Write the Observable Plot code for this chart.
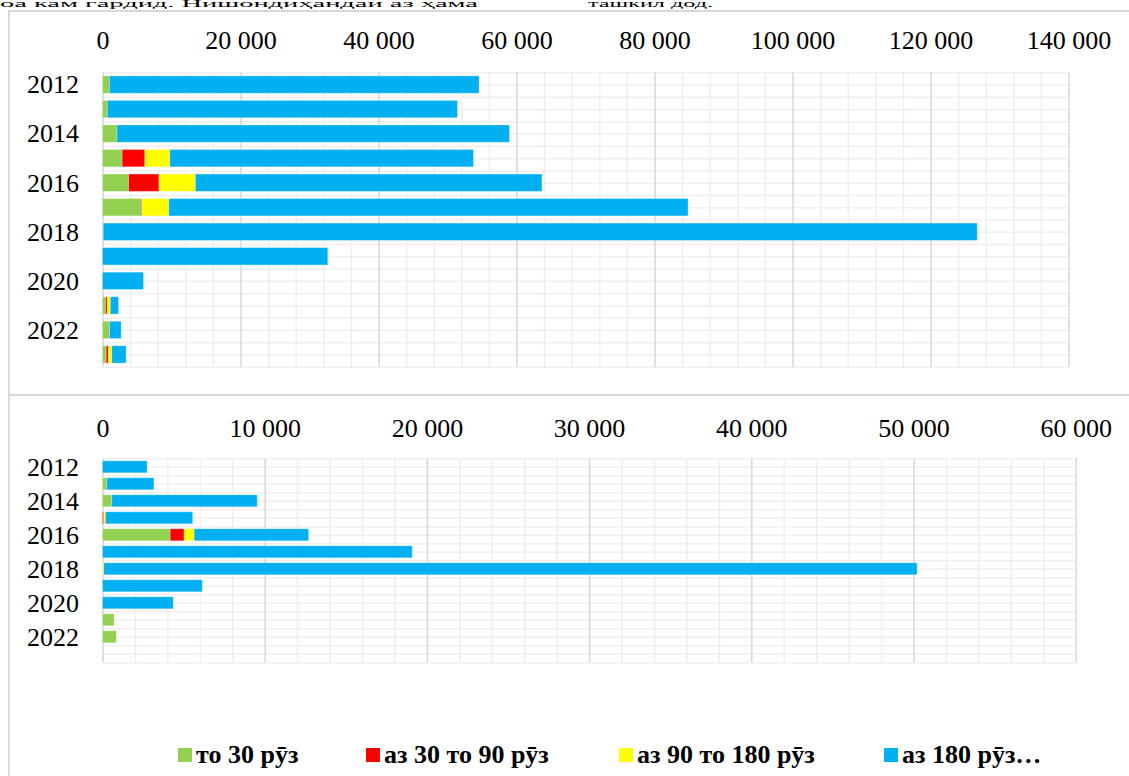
<!DOCTYPE html>
<html>
<head>
<meta charset="utf-8">
<script src="https://cdn.jsdelivr.net/npm/d3@7"></script>
<script src="https://cdn.jsdelivr.net/npm/@observablehq/plot@0.6"></script>
<style>
  html, body { margin: 0; padding: 0; background: #fff; }
  body { width: 1129px; height: 776px; overflow: hidden; position: relative;
         font-family: "Liberation Serif", "Times New Roman", serif; color: #000; }
  .abs { position: absolute; }
  .line { position: absolute; background: #d9d9d9; }
  .cut { position: absolute; top: -1px; font-size: 10px; white-space: pre; line-height: 10px; transform-origin: 0 0; }
  .legend-item { position: absolute; top: 738px; font-size: 26px; font-weight: bold; white-space: nowrap; line-height: 34px; }
  .legend-item .sw { display: inline-block; width: 14px; height: 14px; margin-right: 4px; vertical-align: 1px; }
</style>
</head>
<body>
<span class="cut" id="cut1" data-left="0" data-width="478">оа кам гардид. Нишондиҳандаи аз ҳама</span>
<span class="cut" id="cut2" data-left="588" data-width="125">ташкил дод.</span>
<div class="line" style="left:8px;top:10px;width:2px;height:766px;"></div>
<div class="line" style="left:8px;top:10px;width:1121px;height:2px;"></div>
<div class="line" style="left:8px;top:394px;width:1121px;height:2px;"></div>
<div id="top" class="abs" style="left:0;top:0;"></div>
<div id="bottom" class="abs" style="left:0;top:395px;"></div>
<div id="legend"></div>
<script>
// ---- data ----
const years = [2012, 2013, 2014, 2015, 2016, 2017, 2018, 2019, 2020, 2021, 2022, 2023];
const yearLabels = [2012, 2014, 2016, 2018, 2020, 2022];
const seriesNames = ["то 30 рӯз", "аз 30 то 90 рӯз", "аз 90 то 180 рӯз", "аз 180 рӯз…"];
const seriesColors = ["#92d050", "#ff0000", "#ffff00", "#00b0f0"];

// top chart
const topUpTo30     = [1000, 700, 2100, 2840, 3780, 5630, 100, 0, 0, 450, 1010, 540];
const top30to90     = [0, 0, 0, 3300, 4400, 100, 0, 0, 0, 250, 0, 330];
const top90to180    = [0, 0, 0, 3620, 5280, 3880, 0, 0, 0, 430, 0, 480];
const top180plus    = [53570, 50730, 56870, 44000, 50220, 75240, 126660, 32650, 5930, 1200, 1690, 2070];
const topTicks      = [0, 20000, 40000, 60000, 80000, 100000, 120000, 140000];

// bottom chart
const botUpTo30     = [0, 270, 570, 0, 4170, 0, 0, 0, 0, 710, 850, 0];
const bot30to90     = [0, 0, 0, 80, 860, 0, 0, 0, 0, 0, 0, 0];
const bot90to180    = [0, 0, 0, 100, 620, 0, 80, 0, 0, 0, 0, 0];
const bot180plus    = [2750, 2900, 8970, 5380, 7060, 19090, 50140, 6150, 4360, 0, 0, 0];
const botTicks      = [0, 10000, 20000, 30000, 40000, 50000, 60000];

const fmt = d => d3.format(",")(d).replace(/,/g, " ");

// fit the partial text line above the charts into its span
document.querySelectorAll(".cut").forEach(el => {
  const w = el.getBoundingClientRect().width;
  el.style.left = el.dataset.left + "px";
  el.style.transform = `scaleX(${(+el.dataset.width) / w})`;
});

function makeChart({values, ticks, minorStep, height, marginTop, marginBottom, marginRight, tickPadding}) {
  const rows = [];
  years.forEach((yr, i) => seriesNames.forEach((s, j) => {
    if (values[j][i] > 0) rows.push({year: yr, series: s, value: values[j][i]});
  }));
  const xMax = ticks[ticks.length - 1];
  const y0 = years[0] - 0.5, y1 = years[years.length - 1] + 0.5;
  const hLines = d3.range(y0, y1 + 0.01, 0.5);
  const minor = d3.range(0, xMax + 1, minorStep).filter(v => !ticks.includes(v));
  return Plot.plot({
    width: 1129,
    height,
    marginLeft: 102.5,
    marginRight,
    marginTop,
    marginBottom,
    style: {fontFamily: '"Liberation Serif", "Times New Roman", serif', fontSize: "26px", color: "#000", background: "transparent", overflow: "visible"},
    x: {domain: [0, xMax]},
    y: {domain: [y0, y1], reverse: true},
    color: {domain: seriesNames, range: seriesColors},
    marks: [
      Plot.ruleY(hLines, {stroke: "#f0f0f0", strokeWidth: 1.6}),
      Plot.ruleX(minor, {stroke: "#f0f0f0", strokeWidth: 1.6}),
      Plot.ruleX(ticks, {stroke: "#d9d9d9", strokeWidth: 1.6}),
      Plot.rectX(rows, {
        x: "value",
        y1: d => d.year - 0.353,
        y2: d => d.year + 0.353,
        fill: "series",
        stroke: "#ffffff",
        strokeOpacity: 0.35,
        strokeWidth: 0.8
      }),
      Plot.axisX({anchor: "top", ticks, tickSize: 0, tickPadding, tickFormat: fmt, label: null}),
      Plot.axisY({anchor: "left", ticks: yearLabels, tickSize: 0, tickPadding: 24, tickFormat: "d", label: null})
    ]
  });
}

document.getElementById("top").append(makeChart({
  values: [topUpTo30, top30to90, top90to180, top180plus],
  ticks: topTicks, minorStep: 4000,
  height: 395, marginTop: 72.3, marginBottom: 28.3, marginRight: 1129 - 1068.6,
  tickPadding: 24
}));

document.getElementById("bottom").append(makeChart({
  values: [botUpTo30, bot30to90, bot90to180, bot180plus],
  ticks: botTicks, minorStep: 2000,
  height: 381, marginTop: 63.3, marginBottom: 381 - 267.3, marginRight: 1129 - 1075.7,
  tickPadding: 21.6
}));

// legend
const legendLeft = [178, 366, 619, 884];
const legend = document.getElementById("legend");
seriesNames.forEach((name, i) => {
  const item = document.createElement("div");
  item.className = "legend-item";
  item.style.left = legendLeft[i] + "px";
  const sw = document.createElement("span");
  sw.className = "sw";
  sw.style.background = seriesColors[i];
  item.append(sw, document.createTextNode(name));
  legend.append(item);
});
</script>
</body>
</html>
